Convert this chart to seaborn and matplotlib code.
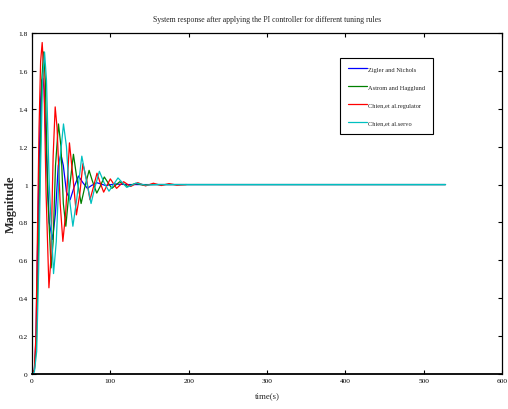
import numpy as np
import pandas as pd
import matplotlib
matplotlib.use("Agg")
import matplotlib.pyplot as plt
import seaborn as sns
from matplotlib.ticker import FormatStrFormatter

# ---- data (time in s, magnitude) ----
labels = ["Zigler and Nichols", "Astrom and Hagglund", "Chien,et al.regulator", "Chien,et al.servo"]
colors = ["#0000ff", "#008000", "#ff0000", "#00c0c0"]

t_zn = [0, 3, 5, 7, 9, 11, 12.5, 14, 15.5, 18, 22, 26.2, 30, 33.5, 36.9, 40, 44, 48.7, 54, 59.3, 65, 70.7, 76, 82.7, 94, 106, 120, 528]
y_zn = [0, 0.02, 0.18, 0.65, 1.1, 1.45, 1.55, 1.56, 1.5, 1.2, 0.8, 0.71, 0.85, 1.1, 1.16, 1.1, 0.96, 0.92, 0.99, 1.045, 1.01, 0.98, 0.995, 1.01, 0.995, 1.003, 1.0, 1.0]

t_ah = [0, 3, 5.5, 8, 10.5, 12.5, 14.8, 17, 20, 24.4, 27, 30, 33.8, 37, 40, 43.2, 47, 52.9, 57, 62.7, 67, 72.9, 77, 82.7, 87, 92.3, 97, 102, 112, 122, 132, 142, 152, 528]
y_ah = [0, 0.02, 0.15, 0.6, 1.15, 1.55, 1.70, 1.55, 0.95, 0.56, 0.7, 1.1, 1.32, 1.2, 0.9, 0.78, 0.95, 1.16, 1.04, 0.90, 0.98, 1.075, 1.02, 0.955, 0.99, 1.04, 1.01, 0.98, 1.015, 0.99, 1.006, 0.997, 1.0, 1.0]

t_cr = [0, 3, 5, 7, 9, 11, 13, 15, 18, 21.6, 24, 27, 29.6, 32, 36, 39.4, 43, 47.8, 52, 56.7, 61, 65, 70, 74, 78, 83, 87, 91.5, 100, 108, 117, 126, 135, 145, 155, 165, 175, 185, 197]
y_cr = [0, 0.02, 0.2, 0.75, 1.3, 1.65, 1.75, 1.6, 0.95, 0.455, 0.6, 1.15, 1.41, 1.3, 0.9, 0.70, 0.85, 1.22, 1.05, 0.84, 0.95, 1.11, 1.02, 0.92, 0.98, 1.06, 1.01, 0.96, 1.03, 0.98, 1.015, 0.99, 1.01, 0.993, 1.007, 0.995, 1.005, 0.997, 1.0]

t_cs = [0, 3, 6, 8.5, 11, 13.5, 16, 18.5, 22, 27.5, 31, 35, 40.2, 44, 48, 52.2, 57, 63.6, 69, 75.4, 80, 86, 92, 98.3, 104, 109.8, 121, 133, 145, 157, 528]
y_cs = [0, 0.01, 0.12, 0.55, 1.1, 1.55, 1.70, 1.55, 1.0, 0.53, 0.7, 1.1, 1.32, 1.2, 0.92, 0.78, 0.92, 1.15, 1.03, 0.90, 0.98, 1.07, 1.01, 0.965, 1.0, 1.035, 0.985, 1.008, 0.997, 1.0, 1.0]

x_ticks = [0, 100, 200, 300, 400, 500, 600]
y_ticks = [0, 0.2, 0.4, 0.6, 0.8, 1.0, 1.2, 1.4, 1.6, 1.8]

frames = []
for lab, t, y in zip(labels, [t_zn, t_ah, t_cr, t_cs], [y_zn, y_ah, y_cr, y_cs]):
    frames.append(pd.DataFrame({"t": t, "y": y, "method": lab}))
df = pd.concat(frames, ignore_index=True)

sns.set_style("ticks")
plt.rcParams["font.family"] = ["Liberation Serif", "DejaVu Serif"]

fig = plt.figure(figsize=(5.08, 4.10), dpi=100)
ax = fig.add_axes([0.063, 0.0854, 0.925, 0.8316])

sns.lineplot(data=df, x="t", y="y", hue="method", hue_order=labels,
             palette=dict(zip(labels, colors)), sort=False, estimator=None,
             units="method", linewidth=0.9, ax=ax, legend=True)

ax.set_xlim(0, 600)
ax.set_ylim(0, 1.8)
ax.set_xticks(x_ticks)
ax.set_yticks(y_ticks)
ax.yaxis.set_major_formatter(FormatStrFormatter("%g"))
ax.tick_params(direction="in", length=3, width=0.8, labelsize=5.3,
               top=True, right=True, pad=3, colors="black")
for s in ax.spines.values():
    s.set_visible(True)
    s.set_color("black")
    s.set_linewidth(0.9)
ax.spines["bottom"].set_linewidth(1.3)

ax.set_title("System response after applying the PI controller for different tuning rules",
             fontsize=5.6, pad=9)
ax.set_xlabel("time(s)", fontsize=6.3, labelpad=6)
ax.set_ylabel("Magnitude", fontsize=8.8, fontweight="bold", labelpad=1)

leg = ax.legend(loc="upper left", bbox_to_anchor=(0.655, 0.927), fontsize=4.6,
                frameon=True, fancybox=False, edgecolor="black", framealpha=1,
                handlelength=2.9, handletextpad=0.2, labelspacing=1.95,
                borderpad=1.3, borderaxespad=0)
leg.get_frame().set_linewidth(0.8)
for h in leg.get_lines():
    h.set_linewidth(0.9)

fig.savefig("out.png", dpi=100)
